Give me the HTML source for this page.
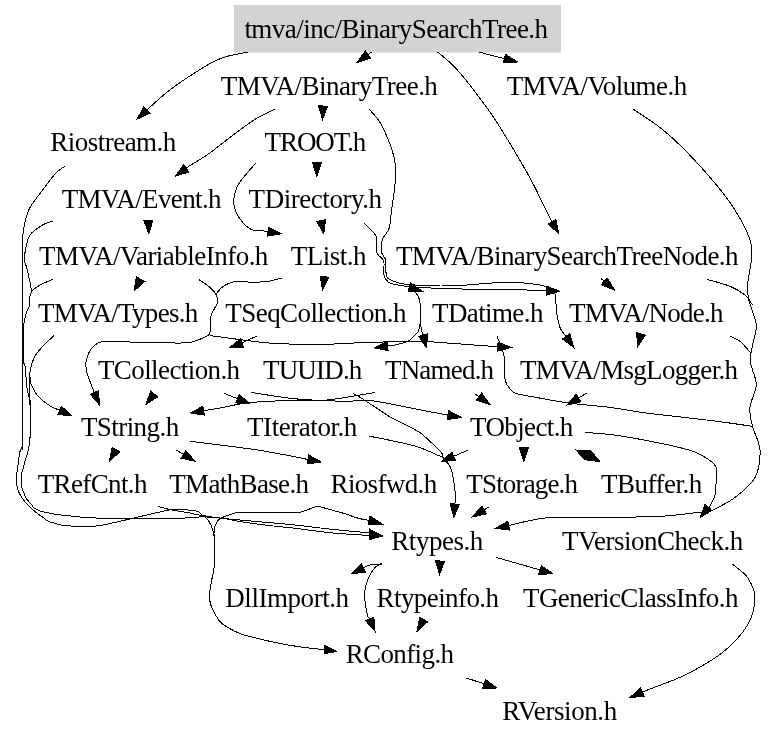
<!DOCTYPE html><html><head><meta charset="utf-8"><title>BinarySearchTree.h include graph</title><style>html,body{margin:0;padding:0;background:#fff;}svg{display:block;}text{will-change:transform;}</style></head><body>
<svg width="779" height="740" viewBox="0 0 779 740">
<rect x="0" y="0" width="779" height="740" fill="#fff"/>
<rect x="234" y="5" width="327" height="47.5" fill="#d3d3d3"/>
<g fill="none" stroke="#000" stroke-width="1" shape-rendering="crispEdges">
<path d="M247.6,52.2 C244.3,52.9 233.5,54.6 227.8,56.2 C222.1,57.8 218.9,58.9 213.5,61.6 C208.1,64.3 201.2,68.8 195.5,72.4 C189.8,76.0 184.4,79.5 179.3,83.1 C174.2,86.7 170.3,89.4 164.9,93.9 C159.5,98.4 150.0,107.2 147.0,109.9"/>
<path d="M371.5,52.0 L367.9,54.6"/>
<path d="M478.8,52.0 C481.0,52.6 487.7,54.4 492.0,55.5 C496.3,56.6 502.3,58.1 504.4,58.7"/>
<path d="M437.5,52.0 C440.1,54.2 447.6,59.9 453.0,65.4 C458.4,70.9 464.4,78.1 470.0,85.2 C475.6,92.3 482.7,102.0 486.9,107.8 C491.1,113.6 491.1,113.4 495.4,120.0 C499.6,126.6 506.6,137.9 512.4,147.6 C518.2,157.3 525.3,169.4 530.2,178.3 C535.1,187.2 538.0,193.8 541.6,201.0 C545.2,208.2 550.3,218.3 552.0,221.7"/>
<path d="M274.8,109.2 C271.7,110.8 263.0,114.4 256.3,118.5 C249.6,122.6 242.7,128.0 234.7,133.9 C226.7,139.8 215.9,148.6 208.5,153.9 C201.1,159.2 193.7,163.1 190.0,165.5 C186.3,167.9 186.9,167.8 186.3,168.3"/>
<path d="M323.0,106.0 L323.0,106.0"/>
<path d="M368.8,108.8 C370.7,111.1 376.5,116.7 380.0,122.5 C383.5,128.3 387.3,137.1 389.8,143.8 C392.3,150.5 394.1,155.8 395.0,162.5 C395.9,169.2 395.6,175.5 395.0,183.8 C394.4,192.1 392.3,205.1 391.3,212.5 C390.3,219.9 390.6,223.9 389.2,228.2 C387.8,232.4 384.4,235.2 383.1,238.0 C381.8,240.8 381.5,242.8 381.3,245.3 C381.1,247.8 381.2,250.8 381.9,253.2 C382.6,255.6 384.8,256.3 385.5,259.9 C386.2,263.4 385.6,271.3 386.2,274.5 C386.8,277.7 387.1,277.9 389.2,279.3 C391.3,280.7 395.2,282.1 398.9,283.0 C402.5,283.9 404.2,284.3 411.1,284.8 C418.0,285.3 431.7,285.9 440.0,286.0 C448.3,286.1 449.9,286.0 461.0,285.4 C472.1,284.8 493.3,282.4 506.3,282.3 C519.3,282.2 531.6,283.6 539.1,284.8 C546.6,286.0 548.6,287.7 551.4,289.5 C554.1,291.3 554.8,292.3 555.6,295.7 C556.4,299.1 555.6,304.7 556.3,310.0 C557.0,315.3 558.4,323.1 560.0,327.5 C561.6,331.9 565.1,334.9 566.1,336.4"/>
<path d="M364.3,223.4 C366.3,225.6 374.4,232.0 376.4,236.8 C378.4,241.6 375.2,247.9 376.4,252.0 C377.6,256.1 382.5,257.4 383.7,261.1 C384.9,264.9 383.0,271.1 383.7,274.5 C384.4,277.9 385.9,280.1 388.0,281.8 C390.1,283.5 391.2,283.9 396.5,284.8 C401.8,285.8 405.8,286.7 420.0,287.5 C434.2,288.3 464.5,289.1 481.6,289.5 C498.7,289.9 511.9,289.7 522.7,289.9 C533.5,290.1 542.3,290.6 546.2,290.7"/>
<path d="M415.3,291.7 C416.0,293.1 418.8,296.6 419.6,300.0 C420.4,303.4 420.2,308.2 420.3,312.0 C420.4,315.8 420.1,319.8 420.3,323.0 C420.6,326.2 421.4,329.0 421.8,331.0 C422.2,333.0 422.8,334.4 423.0,335.0"/>
<path d="M420.3,322.0 C420.0,323.5 419.8,328.5 418.4,331.2 C417.0,333.9 413.8,336.3 412.0,338.0 C410.2,339.7 410.3,340.3 407.5,341.5 C404.7,342.7 398.3,344.2 395.0,345.0 C391.7,345.8 388.7,345.9 387.5,346.1"/>
<path d="M317.0,163.0 L317.0,162.8"/>
<path d="M255.8,163.0 C253.0,166.5 242.5,177.6 238.8,183.8 C235.1,190.0 234.0,194.8 233.8,200.0 C233.6,205.2 234.8,210.2 237.5,215.0 C240.2,219.8 245.8,226.2 250.0,228.8 C254.2,231.4 259.5,230.3 262.5,230.8 C265.5,231.3 267.1,231.5 268.0,231.7"/>
<path d="M321.0,220.0 L321.1,220.6"/>
<path d="M148.4,221.0 L148.4,220.3"/>
<path d="M140.6,279.1 L140.6,279.1"/>
<path d="M324.5,277.5 L324.6,276.7"/>
<path d="M64.9,166.2 C63.2,167.5 58.8,169.9 54.8,174.3 C50.8,178.7 44.7,187.2 40.6,192.6 C36.5,198.0 32.8,202.8 30.4,206.8 C28.0,210.9 27.6,212.9 26.4,216.9 C25.2,220.9 23.9,227.0 23.3,231.1 C22.7,235.2 22.7,236.5 22.6,241.3 C22.5,246.1 22.5,250.2 22.5,260.0 C22.5,269.8 22.5,283.3 22.5,300.0 C22.5,316.7 22.5,336.5 22.5,360.0 C22.5,383.5 22.7,426.3 22.5,441.0 C22.3,455.7 21.9,446.3 21.4,448.3 C20.9,450.3 20.2,450.0 19.6,453.1 C19.0,456.2 18.3,463.5 17.8,467.1 C17.3,470.7 16.7,472.4 16.5,474.9 C16.3,477.4 16.2,479.6 16.5,482.2 C16.8,484.8 17.3,487.9 18.1,490.3 C18.9,492.7 20.1,494.7 21.3,496.7 C22.5,498.7 23.9,500.6 25.4,502.4 C26.9,504.2 28.4,505.5 30.3,507.3 C32.2,509.1 34.7,511.4 36.7,513.0 C38.7,514.6 40.5,515.6 42.4,517.0 C44.3,518.4 45.9,520.0 48.1,521.1 C50.3,522.2 52.3,522.7 55.4,523.5 C58.5,524.3 60.1,525.4 66.7,525.8 C73.3,526.2 87.0,526.6 94.9,526.1 C102.8,525.6 107.8,523.9 114.2,522.6 C120.6,521.3 127.4,519.5 133.4,518.1 C139.4,516.7 145.8,515.3 150.0,514.3 C154.2,513.3 154.9,513.0 158.3,512.3 C161.8,511.5 167.3,510.3 170.7,509.8 C174.1,509.3 176.3,509.4 178.9,509.4 C181.5,509.4 183.0,509.5 186.1,509.8 C189.2,510.1 194.7,510.4 197.4,511.3 C200.1,512.2 201.0,514.2 202.5,515.4 C204.0,516.6 205.2,517.0 206.6,518.5 C208.0,520.0 209.5,522.0 210.7,524.6 C211.9,527.2 213.2,531.6 213.8,533.9 C214.4,536.1 214.2,533.4 214.4,538.1 C214.6,542.9 215.2,555.6 214.8,562.4 C214.4,569.1 212.9,573.2 212.0,578.6 C211.1,584.0 209.7,590.2 209.6,594.8 C209.5,599.4 209.6,601.9 211.2,606.2 C212.8,610.5 216.6,617.3 219.3,620.8 C222.0,624.3 223.9,625.1 227.4,627.2 C230.9,629.4 235.8,631.9 240.4,633.7 C245.0,635.5 249.1,636.3 255.0,637.8 C260.9,639.3 268.0,641.0 275.7,642.6 C283.4,644.2 293.2,645.9 301.3,647.1 C309.4,648.3 320.6,649.2 324.5,649.6"/>
<path d="M52.5,221.3 C50.8,221.9 46.2,222.7 42.5,225.0 C38.8,227.3 32.8,230.8 30.0,235.0 C27.2,239.2 26.4,245.8 25.5,250.0 C24.6,254.2 24.3,257.6 24.5,260.5 C24.7,263.4 26.0,264.8 26.6,267.2 C27.2,269.6 27.8,272.5 28.4,275.1 C29.0,277.7 29.8,280.3 30.3,283.0 C30.8,285.7 31.2,289.6 31.2,291.5 C31.2,293.4 30.6,293.2 30.3,294.6 C30.0,296.0 29.6,298.1 29.5,300.0 C29.4,301.9 30.0,304.0 29.6,305.7 C29.2,307.4 27.9,308.4 27.2,310.2 C26.5,312.0 25.9,314.3 25.4,316.3 C24.9,318.3 24.5,320.6 24.2,322.4 C23.9,324.2 23.6,320.8 23.5,327.0 C23.4,333.2 23.2,352.9 23.5,359.5 C23.8,366.1 24.7,364.0 25.1,366.8 C25.5,369.6 25.8,373.5 26.0,376.5 C26.2,379.5 26.3,382.4 26.6,385.0 C26.9,387.6 27.4,390.4 27.8,392.3 C28.2,394.2 28.6,394.5 29.0,396.6 C29.4,398.7 29.8,402.3 30.0,405.0 C30.2,407.7 30.4,408.8 30.5,413.0 C30.6,417.2 30.6,425.2 30.5,430.0 C30.4,434.8 30.0,438.4 29.6,441.6 C29.3,444.9 28.8,447.4 28.4,449.5 C28.0,451.6 27.6,452.7 27.2,454.3 C26.8,455.9 26.1,457.8 25.7,459.2 C25.2,460.6 24.9,461.7 24.5,462.9 C24.1,464.1 23.9,465.3 23.6,466.5 C23.3,467.7 23.1,468.8 22.7,470.2 C22.3,471.6 21.7,472.2 21.5,474.9 C21.3,477.6 21.1,483.2 21.5,486.2 C21.9,489.2 23.0,490.7 23.8,492.7 C24.6,494.7 25.0,496.5 26.2,498.4 C27.4,500.3 29.8,502.4 31.1,504.0 C32.5,505.6 32.7,506.9 34.3,508.1 C35.9,509.3 38.4,510.5 40.8,511.3 C43.2,512.1 46.5,512.5 48.9,513.0 C51.3,513.5 53.5,513.9 55.4,514.2 C57.3,514.5 55.2,514.4 60.3,514.9 C65.4,515.4 77.6,516.9 85.9,517.5 C94.2,518.1 99.6,518.2 110.3,518.4 C121.0,518.6 138.4,518.6 150.0,518.6 C161.6,518.6 171.2,518.6 179.9,518.3 C188.7,518.0 195.1,516.9 202.5,516.9 C209.9,516.9 217.8,517.7 224.1,518.5 C230.4,519.3 233.5,520.5 240.5,521.6 C247.5,522.7 257.1,524.1 266.2,525.2 C275.3,526.3 284.1,527.0 295.0,528.3 C305.9,529.6 319.4,531.7 331.6,532.9 C343.8,534.1 360.8,534.9 368.2,535.4 C375.6,535.9 374.7,535.9 376.0,536.0"/>
<path d="M52.5,279.3 C50.7,280.1 44.5,282.9 41.8,284.2 C39.1,285.5 38.1,286.1 36.3,287.3 C34.5,288.5 32.0,290.8 31.2,291.5"/>
<path d="M53.8,335.8 C51.8,337.7 44.9,344.0 41.8,347.3 C38.7,350.6 36.7,353.2 35.1,355.8 C33.5,358.4 32.9,361.0 32.1,363.1 C31.4,365.2 31.0,366.6 30.6,368.6 C30.2,370.6 29.9,372.6 29.7,375.3 C29.5,378.0 29.7,381.9 29.7,385.0 C29.7,388.1 29.6,390.7 29.7,394.0 C29.8,397.3 30.2,403.2 30.3,405.0"/>
<path d="M29.7,372.0 C29.8,373.7 30.1,379.9 30.5,382.2 C30.9,384.5 31.0,383.8 32.1,386.0 C33.2,388.2 34.5,392.2 37.2,395.4 C39.9,398.5 44.7,402.4 48.5,404.9 C52.3,407.4 58.0,409.6 59.9,410.5 C61.8,411.4 59.7,410.4 59.6,410.4"/>
<path d="M198.8,279.5 C200.7,280.8 207.1,284.9 210.0,287.5 C212.9,290.1 215.1,292.5 216.3,295.0 C217.6,297.5 218.3,299.2 217.5,302.5 C216.7,305.8 212.5,310.8 211.3,315.0 C210.1,319.2 210.9,324.8 210.5,328.0 C210.1,331.2 210.6,332.6 209.1,334.4 C207.6,336.1 204.8,337.1 201.6,338.5 C198.4,339.9 194.4,341.8 190.0,342.5 C185.6,343.2 183.3,343.0 175.0,343.0 C166.7,343.0 151.7,342.8 140.0,342.5 C128.3,342.2 112.9,340.5 105.0,341.3 C97.1,342.1 95.6,344.4 92.5,347.5 C89.4,350.6 87.3,356.2 86.3,360.0 C85.3,363.8 85.5,365.8 86.3,370.0 C87.1,374.2 90.0,381.2 91.3,385.0 C92.6,388.8 93.9,391.3 94.4,392.5"/>
<path d="M281.7,278.0 C279.1,278.6 271.9,280.9 266.3,281.6 C260.7,282.3 252.4,282.1 247.8,282.0 C243.2,281.9 241.7,280.9 238.6,281.1 C235.5,281.3 232.1,282.0 229.3,283.1 C226.5,284.2 223.8,285.9 221.6,287.7 C219.4,289.5 217.1,292.9 216.2,293.9"/>
<path d="M210.2,335.6 C214.5,336.2 228.0,338.0 236.2,339.1 C244.4,340.2 252.0,341.2 259.3,342.0 C266.6,342.8 269.9,343.3 280.0,343.7 C290.1,344.1 304.8,344.7 320.0,344.5 C335.2,344.3 354.2,342.8 371.3,342.3 C388.4,341.8 411.2,341.6 422.7,341.6 C434.1,341.6 430.4,341.9 440.0,342.5 C449.6,343.1 470.4,344.8 480.0,345.5 C489.6,346.2 494.9,346.4 497.8,346.6"/>
<path d="M257.0,336.2 C255.5,336.8 250.5,338.8 248.0,340.0 C245.5,341.2 243.0,342.7 242.0,343.2"/>
<path d="M154.0,394.0 L154.2,394.0"/>
<path d="M224.2,393.3 L237.5,398.7"/>
<path d="M375.2,392.4 C367.2,393.7 340.9,398.7 327.5,400.0 C314.1,401.3 307.9,399.9 295.0,400.3 C282.1,400.7 262.3,401.3 249.8,402.6 C237.3,403.9 227.7,406.6 220.0,408.0 C212.3,409.4 206.3,410.3 203.6,410.7"/>
<path d="M250.9,392.3 C258.2,393.4 279.3,397.3 295.0,398.8 C310.7,400.3 332.3,401.0 345.0,401.3 C357.7,401.6 357.6,398.9 371.3,400.6 C385.1,402.3 414.7,408.9 427.5,411.3 C440.3,413.7 444.6,414.4 448.0,415.1"/>
<path d="M353.1,393.5 C354.2,394.1 357.1,395.5 360.0,397.3 C362.9,399.1 365.7,401.0 370.8,404.3 C375.9,407.6 385.2,414.1 390.8,417.4 C396.4,420.7 399.8,421.7 404.7,424.3 C409.6,426.9 415.5,429.6 420.1,432.8 C424.7,436.0 428.8,440.3 432.4,443.6 C436.0,446.9 439.8,450.2 441.7,452.8 C443.6,455.4 442.4,457.3 443.6,459.3 C444.8,461.3 447.6,462.5 449.0,464.7 C450.4,466.9 451.0,467.3 452.1,472.4 C453.2,477.4 455.0,489.7 455.5,495.0 C456.0,500.3 454.9,502.5 454.8,504.0"/>
<path d="M369.3,436.2 C372.9,436.9 382.9,438.8 390.8,440.5 C398.8,442.2 408.3,443.8 417.0,446.6 C425.7,449.4 438.7,455.7 443.0,457.5"/>
<path d="M475.0,393.8 L479.0,396.7"/>
<path d="M497.1,336.4 C498.2,339.5 502.6,349.3 503.9,355.0 C505.1,360.7 504.4,366.0 504.6,370.4 C504.9,374.8 504.5,378.1 505.4,381.2 C506.3,384.3 508.2,386.8 510.0,388.9 C511.8,390.9 511.8,392.1 516.2,393.5 C520.6,394.9 527.7,395.8 536.2,397.4 C544.7,398.9 554.7,401.1 567.0,402.8 C579.3,404.5 597.5,405.8 610.0,407.4 C622.5,409.0 629.7,410.8 642.2,412.5 C654.7,414.2 672.0,416.0 685.0,417.5 C698.0,419.0 708.8,420.2 720.0,421.7 C731.2,423.2 747.1,425.5 752.5,426.3"/>
<path d="M587.1,392.8 L578.5,398.1"/>
<path d="M468.3,450.0 L453.7,456.3"/>
<path d="M523.8,448.5 L523.8,447.8"/>
<path d="M584.6,432.4 C590.8,433.0 605.2,433.4 621.6,436.1 C638.0,438.8 669.5,445.0 683.2,448.4 C696.9,451.8 698.3,453.5 703.8,456.6 C709.3,459.7 714.0,463.4 716.1,466.9 C718.2,470.4 716.5,472.8 716.3,477.5 C716.1,482.2 716.0,490.2 715.0,495.0 C714.0,499.8 710.6,503.7 710.0,506.3 C709.4,508.9 711.1,510.1 711.3,510.8"/>
<path d="M633.3,109.3 C637.8,112.3 651.4,120.7 660.0,127.5 C668.6,134.3 675.8,140.6 685.0,150.0 C694.2,159.4 707.2,173.8 715.5,183.8 C723.8,193.8 729.2,200.6 735.0,210.0 C740.8,219.4 747.3,231.7 750.0,240.0 C752.7,248.3 751.7,252.5 751.3,260.0 C750.9,267.5 747.9,278.3 747.5,285.0 C747.1,291.7 747.3,293.3 748.8,300.0 C750.3,306.7 755.7,317.5 756.3,325.0 C756.9,332.5 753.5,339.2 752.5,345.0 C751.5,350.8 750.0,355.8 750.0,360.0 C750.0,364.2 751.5,365.8 752.5,370.0 C753.5,374.2 756.7,378.8 756.3,385.0 C755.9,391.2 750.6,400.6 750.0,407.5 C749.4,414.4 750.8,419.2 752.5,426.3 C754.2,433.4 759.6,441.5 760.0,450.0 C760.4,458.5 759.2,469.6 755.0,477.5 C750.8,485.4 742.3,491.9 735.0,497.5 C727.7,503.1 715.2,508.6 711.3,510.8"/>
<path d="M707.5,279.5 C711.2,280.6 723.8,283.7 730.0,286.3 C736.2,288.9 741.2,291.9 745.0,295.0 C748.8,298.1 751.2,303.3 752.5,305.0"/>
<path d="M730.0,336.3 C731.7,337.1 736.7,338.7 740.0,341.3 C743.3,343.9 748.3,350.2 750.0,352.0"/>
<path d="M601.0,278.5 L604.2,281.2"/>
<path d="M640.0,333.5 L641.0,334.0"/>
<path d="M711.3,510.8 C709.0,511.1 706.0,511.6 697.5,512.5 C689.0,513.4 676.2,515.5 660.0,516.3 C643.8,517.1 618.3,517.3 600.0,517.5 C581.7,517.7 563.4,516.6 550.1,517.5 C536.8,518.4 526.9,521.4 520.0,522.8 C513.1,524.2 510.6,525.2 508.7,525.7"/>
<path d="M488.8,507.0 L484.0,509.9"/>
<path d="M116.0,449.5 L116.1,449.6"/>
<path d="M176.3,450.0 L183.4,454.3"/>
<path d="M190.0,441.3 C201.2,442.8 237.8,447.0 257.5,450.0 C277.2,453.0 299.6,457.9 308.0,459.5"/>
<path d="M158.3,506.4 C160.4,507.0 166.1,508.8 170.7,509.8 C175.3,510.8 181.0,511.4 186.1,512.3 C191.2,513.2 195.2,514.4 201.5,515.4 C207.8,516.4 215.9,517.6 224.1,518.5 C232.3,519.4 239.0,519.9 250.8,521.0 C262.6,522.1 281.5,523.6 295.0,525.0 C308.5,526.4 319.4,528.0 331.6,529.3 C343.8,530.6 360.8,532.0 368.2,532.9 C375.6,533.8 374.7,534.2 376.0,534.5"/>
<path d="M213.8,536.0 C214.0,534.5 214.0,529.5 214.8,526.7 C215.7,524.0 217.2,521.2 218.9,519.5 C220.6,517.8 222.5,517.4 225.1,516.4 C227.7,515.4 231.7,514.0 234.4,513.3 C237.2,512.6 231.5,512.5 241.6,512.3 C251.7,512.1 284.7,512.5 295.0,512.3 C305.3,512.1 300.9,511.8 303.5,511.2 C306.1,510.6 308.2,509.4 310.9,508.5 C313.5,507.6 317.4,506.2 319.4,506.1 C321.4,506.0 318.9,506.4 323.0,507.6 C327.1,508.8 337.9,511.6 343.8,513.4 C349.7,515.2 354.0,517.1 358.4,518.3 C362.8,519.5 368.1,520.1 370.0,520.5"/>
<path d="M382.5,563.8 C380.4,564.0 373.2,564.3 370.0,565.0 C366.8,565.7 364.6,567.5 363.5,568.1"/>
<path d="M382.5,563.8 C381.2,564.4 377.5,564.8 375.0,567.5 C372.5,570.2 369.2,575.4 367.5,580.0 C365.8,584.6 364.5,589.2 364.5,595.0 C364.5,600.8 366.6,611.0 367.5,615.0 C368.4,619.0 369.4,618.2 369.8,618.9"/>
<path d="M440.0,561.0 L440.0,561.0"/>
<path d="M496.3,557.5 C501.5,559.0 520.2,564.2 527.5,566.3 C534.8,568.4 538.0,569.4 540.0,570.0"/>
<path d="M423.0,620.5 L423.7,619.6"/>
<path d="M466.3,678.0 L484.2,683.8"/>
<path d="M732.5,564.3 C735.0,566.5 743.8,572.0 747.5,577.5 C751.2,583.0 755.0,589.6 755.0,597.5 C755.0,605.4 752.9,615.8 747.5,625.0 C742.1,634.2 732.9,644.2 722.5,652.5 C712.1,660.8 697.5,668.8 685.0,675.0 C672.5,681.2 654.6,687.1 647.5,690.0 C640.4,692.9 643.2,691.8 642.4,692.1"/>
</g>
<g fill="#000" stroke="#000" stroke-width="1" shape-rendering="crispEdges">
<polygon points="143.9,106.6 137.1,119.1 150.0,113.2"/>
<polygon points="365.3,50.9 357.0,62.5 370.6,58.2"/>
<polygon points="503.3,63.0 517.5,62.0 505.5,54.3"/>
<polygon points="548.1,223.9 558.6,233.5 555.9,219.5"/>
<polygon points="183.6,164.7 175.4,176.3 188.9,171.9"/>
<polygon points="318.5,105.8 322.5,119.5 327.5,106.2"/>
<polygon points="562.4,338.9 573.8,347.5 569.8,333.8"/>
<polygon points="546.1,295.2 559.7,291.2 546.4,286.2"/>
<polygon points="418.7,336.3 426.8,348.0 427.3,333.8"/>
<polygon points="386.9,341.6 374.1,347.9 388.1,350.6"/>
<polygon points="312.5,162.7 316.8,176.3 321.5,162.9"/>
<polygon points="267.3,236.1 281.3,233.8 268.7,227.2"/>
<polygon points="316.7,221.5 323.8,233.8 325.5,219.7"/>
<polygon points="143.9,220.4 148.8,233.8 152.9,220.2"/>
<polygon points="136.3,276.8 134.2,290.8 144.9,281.5"/>
<polygon points="320.1,276.0 322.5,290.0 329.0,277.3"/>
<polygon points="57.8,414.5 72.0,415.8 61.4,406.3"/>
<polygon points="90.2,394.2 99.5,405.0 98.5,390.8"/>
<polygon points="497.5,351.1 511.3,347.5 498.1,342.1"/>
<polygon points="240.5,339.0 229.3,347.7 243.5,347.4"/>
<polygon points="150.7,391.1 145.8,404.5 157.7,396.8"/>
<polygon points="235.8,402.9 250.0,403.8 239.2,394.5"/>
<polygon points="202.9,406.3 190.3,412.9 204.4,415.1"/>
<polygon points="447.2,419.5 461.3,417.5 448.8,410.6"/>
<polygon points="450.3,503.7 453.8,517.5 459.3,504.4"/>
<polygon points="476.4,400.3 490.0,404.5 481.6,393.0"/>
<polygon points="576.2,394.2 567.0,405.1 580.9,401.9"/>
<polygon points="451.9,452.1 441.3,461.6 455.5,460.4"/>
<polygon points="519.3,447.8 523.8,461.3 528.3,447.8"/>
<polygon points="601.3,284.7 614.5,290.0 607.1,277.8"/>
<polygon points="636.7,332.8 637.5,347.0 645.4,335.1"/>
<polygon points="507.8,521.3 495.5,528.4 509.6,530.1"/>
<polygon points="481.7,506.1 472.5,517.0 486.4,513.8"/>
<polygon points="112.2,447.4 109.3,461.3 120.0,451.9"/>
<polygon points="181.1,458.2 195.0,461.3 185.8,450.5"/>
<polygon points="307.2,463.9 321.3,462.0 308.9,455.1"/>
<polygon points="361.6,564.0 351.3,573.8 365.4,572.1"/>
<polygon points="365.6,620.6 375.0,631.3 373.9,617.1"/>
<polygon points="435.5,560.8 439.5,574.5 444.5,561.2"/>
<polygon points="538.8,574.3 553.0,573.8 541.3,565.7"/>
<polygon points="419.8,617.3 417.0,631.3 427.6,621.8"/>
<polygon points="482.8,688.1 497.0,688.0 485.6,679.5"/>
<polygon points="640.6,688.0 630.0,697.5 644.2,696.3"/>
<polygon points="370.0,515.9 368.2,525.0 382.8,524.4"/>
<polygon points="369.4,529.0 369.4,539.6 382.8,536.0"/>
<polygon points="324.5,645.2 324.5,653.5 336.6,651.6"/>
<polygon points="410.4,283.0 408.1,291.7 423.0,291.7"/>
<polygon points="576.0,450.0 590.8,450.9 600.0,461.7 584.6,459.7"/>
<polygon points="700.4,517.2 704.9,504.4 711.3,510.8"/>
</g>
<g font-family="Liberation Serif" font-size="27" fill="#000">
<text x="244.38" y="38" textLength="303.68" lengthAdjust="spacing">tmva/inc/BinarySearchTree.h</text>
<text x="220.70" y="95" textLength="217.15" lengthAdjust="spacing">TMVA/BinaryTree.h</text>
<text x="506.70" y="95" textLength="180.44" lengthAdjust="spacing">TMVA/Volume.h</text>
<text x="50.30" y="151" textLength="126.01" lengthAdjust="spacing">Riostream.h</text>
<text x="264.61" y="151" textLength="101.71" lengthAdjust="spacing">TROOT.h</text>
<text x="61.72" y="208" textLength="159.80" lengthAdjust="spacing">TMVA/Event.h</text>
<text x="248.61" y="208" textLength="133.49" lengthAdjust="spacing">TDirectory.h</text>
<text x="38.99" y="265" textLength="229.38" lengthAdjust="spacing">TMVA/VariableInfo.h</text>
<text x="290.72" y="265" textLength="75.80" lengthAdjust="spacing">TList.h</text>
<text x="395.95" y="265" textLength="342.48" lengthAdjust="spacing">TMVA/BinarySearchTreeNode.h</text>
<text x="37.99" y="322" textLength="160.35" lengthAdjust="spacing">TMVA/Types.h</text>
<text x="225.36" y="322" textLength="181.10" lengthAdjust="spacing">TSeqCollection.h</text>
<text x="431.99" y="322" textLength="111.39" lengthAdjust="spacing">TDatime.h</text>
<text x="568.99" y="322" textLength="154.41" lengthAdjust="spacing">TMVA/Node.h</text>
<text x="97.95" y="379" textLength="142.14" lengthAdjust="spacing">TCollection.h</text>
<text x="262.99" y="379" textLength="99.38" lengthAdjust="spacing">TUUID.h</text>
<text x="384.95" y="379" textLength="109.15" lengthAdjust="spacing">TNamed.h</text>
<text x="520.01" y="379" textLength="218.05" lengthAdjust="spacing">TMVA/MsgLogger.h</text>
<text x="80.95" y="436" textLength="98.18" lengthAdjust="spacing">TString.h</text>
<text x="247.01" y="436" textLength="110.36" lengthAdjust="spacing">TIterator.h</text>
<text x="469.99" y="436" textLength="103.38" lengthAdjust="spacing">TObject.h</text>
<text x="37.70" y="493" textLength="109.78" lengthAdjust="spacing">TRefCnt.h</text>
<text x="169.27" y="493" textLength="139.76" lengthAdjust="spacing">TMathBase.h</text>
<text x="330.55" y="493" textLength="106.58" lengthAdjust="spacing">Riosfwd.h</text>
<text x="466.27" y="493" textLength="111.76" lengthAdjust="spacing">TStorage.h</text>
<text x="600.95" y="493" textLength="101.41" lengthAdjust="spacing">TBuffer.h</text>
<text x="391.30" y="550" textLength="92.04" lengthAdjust="spacing">Rtypes.h</text>
<text x="561.95" y="550" textLength="181.36" lengthAdjust="spacing">TVersionCheck.h</text>
<text x="225.30" y="607" textLength="123.75" lengthAdjust="spacing">DllImport.h</text>
<text x="376.58" y="607" textLength="122.46" lengthAdjust="spacing">Rtypeinfo.h</text>
<text x="522.99" y="607" textLength="215.43" lengthAdjust="spacing">TGenericClassInfo.h</text>
<text x="345.64" y="663" textLength="108.42" lengthAdjust="spacing">RConfig.h</text>
<text x="502.30" y="720" textLength="114.87" lengthAdjust="spacing">RVersion.h</text>
</g></svg></body></html>
